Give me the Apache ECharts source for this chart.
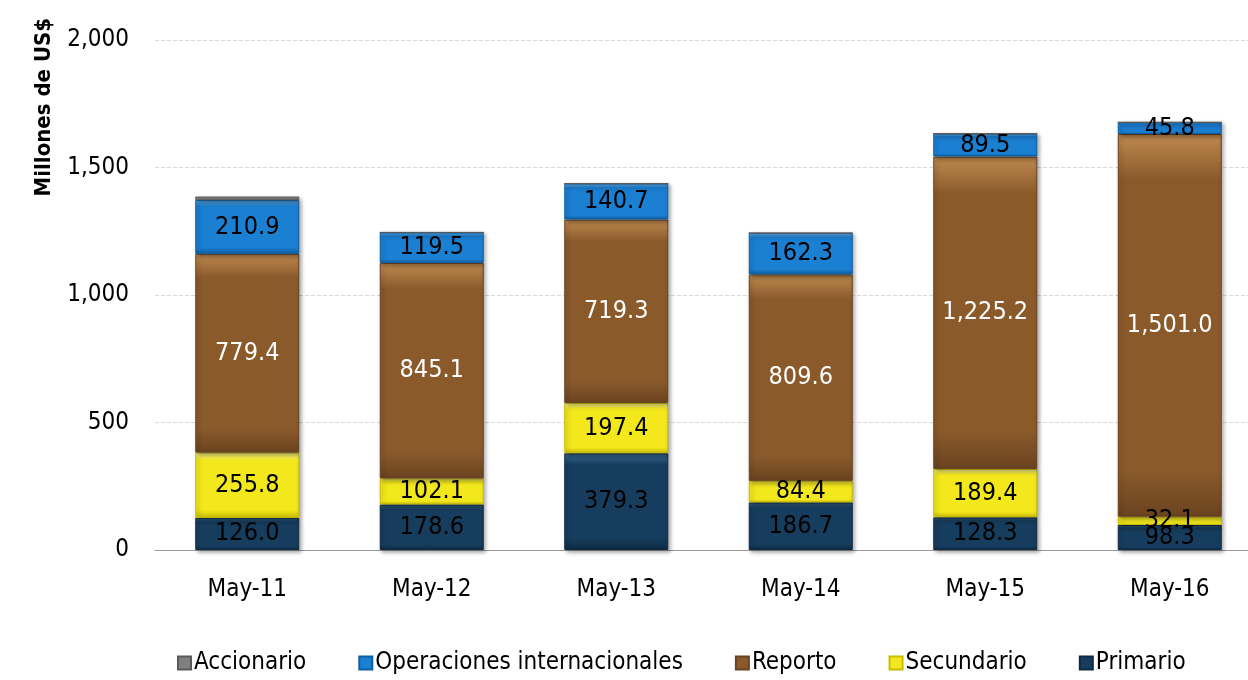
<!DOCTYPE html>
<html>
<head>
<meta charset="utf-8">
<script src="https://cdn.jsdelivr.net/npm/echarts@6/dist/echarts.min.js"></script>
<style>
  html, body { margin: 0; padding: 0; background: #fff; }
  #chart { width: 1248px; height: 680px; }
</style>
</head>
<body>
<div id="chart"></div>
<script>
// datos
const categories = ['May-11', 'May-12', 'May-13', 'May-14', 'May-15', 'May-16'];
const primario = [126.0, 178.6, 379.3, 186.7, 128.3, 98.3];
const secundario = [255.8, 102.1, 197.4, 84.4, 189.4, 32.1];
const reporto = [779.4, 845.1, 719.3, 809.6, 1225.2, 1501.0];
const operaciones = [210.9, 119.5, 140.7, 162.3, 89.5, 45.8];
const accionario = [14, 0, 0, 0, 0, 0];
const yTicks = [0, 500, 1000, 1500, 2000];

const font = '"Liberation Sans Narrow", "Arial Narrow", "DejaVu Sans Condensed", sans-serif';

// relleno con un poco de bisel
const grad = (light, base, dark) => new echarts.graphic.LinearGradient(0, 0, 0, 1, [
  { offset: 0, color: light },
  { offset: 0.12, color: base },
  { offset: 0.88, color: base },
  { offset: 1, color: dark }
]);

const mkSeries = (name, data, fill, border, labelColor, showLabel) => ({
  name,
  type: 'bar',
  stack: 'total',
  barWidth: 104,
  data,
  itemStyle: {
    color: fill,
    borderColor: border,
    borderWidth: 1,
    shadowColor: 'rgba(0,0,0,0.35)',
    shadowBlur: 4,
    shadowOffsetX: 2,
    shadowOffsetY: 2
  },
  label: {
    show: showLabel,
    position: 'inside',
    color: labelColor,
    fontFamily: font,
    fontSize: 25,
    formatter: p => p.value.toLocaleString('en-US', { minimumFractionDigits: 1, maximumFractionDigits: 1 })
  }
});

const chart = echarts.init(document.getElementById('chart'));

chart.setOption({
  animation: false,
  grid: { left: 155, right: -14, top: 40, bottom: 130, outerBoundsMode: 'none', containLabel: false },
  legend: {
    bottom: 0,
    left: 172,
    data: ['Accionario', 'Operaciones internacionales', 'Reporto', 'Secundario', 'Primario'],
    icon: 'rect',
    itemWidth: 13,
    itemHeight: 13,
    itemGap: 52,
    textStyle: { fontFamily: font, fontSize: 24, color: '#000', padding: [0, 0, 0, -2] }
  },
  xAxis: {
    type: 'category',
    data: categories,
    axisTick: { show: false },
    axisLine: { lineStyle: { color: '#999', width: 1 } },
    axisLabel: { fontFamily: font, fontSize: 24, color: '#000', margin: 28 }
  },
  yAxis: {
    type: 'value',
    min: yTicks[0],
    max: yTicks[yTicks.length - 1],
    interval: 500,
    name: 'Millones de US$',
    nameLocation: 'end',
    nameRotate: 90,
    nameGap: 22,
    nameTextStyle: {
      fontFamily: font, fontSize: 22, fontWeight: 'bold', color: '#000',
      align: 'right', verticalAlign: 'bottom', padding: [0, 0, 100, 0]
    },
    axisLine: { show: false },
    axisTick: { show: false },
    splitLine: { lineStyle: { color: '#d9d9d9', type: 'dashed' } },
    axisLabel: {
      fontFamily: font, fontSize: 24, color: '#000', margin: 26,
      formatter: v => v.toLocaleString('en-US')
    }
  },
  series: [
    mkSeries('Primario', primario, grad('#3a6a92', '#173d5e', '#0e2a42'), '#0e2a42', '#000', true),
    mkSeries('Secundario', secundario, grad('#fff79a', '#f3e81c', '#c9bd00'), '#c9bd00', '#000', true),
    mkSeries('Reporto', reporto, grad('#c08a50', '#8a5a2b', '#6a4320'), '#6a4320', '#fff', true),
    mkSeries('Operaciones internacionales', operaciones, grad('#5fb2f0', '#1b7fd2', '#0f5fa5'), '#0f5fa5', '#000', true),
    mkSeries('Accionario', accionario, grad('#b0b0b0', '#808080', '#5a5a5a'), '#5a5a5a', '#000', false)
  ]
});
</script>
</body>
</html>
